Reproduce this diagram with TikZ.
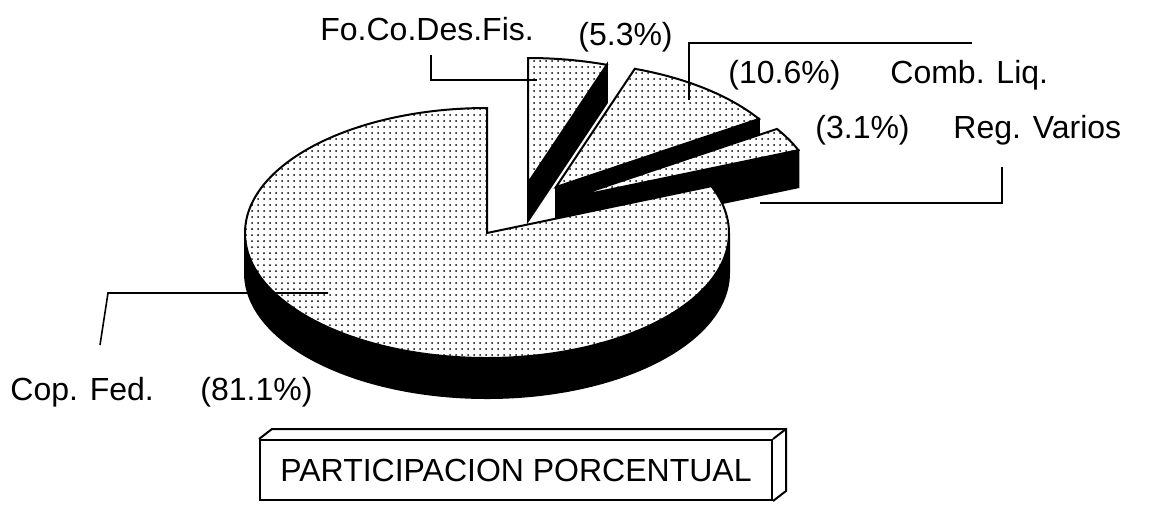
\documentclass[tikz,border=0pt]{standalone}
\usepackage{fontspec}
\setmainfont{Liberation Sans}
\usetikzlibrary{patterns, calc}

\begin{document}
\begin{tikzpicture}[x=0.5pt, y=0.5pt,
  pietop/.style={draw, line width=1pt, pattern=dots, preaction={fill=white}},
  pieside/.style={draw, line width=1pt, fill=black},
  leader/.style={line width=0.8pt},
  lbl/.style={font=\fontsize{16}{19}\selectfont, inner sep=0pt, anchor=base west}]
\useasboundingbox (0,0) rectangle (1151,-505);

% exploded slices, back to front
\coordinate (fc) at (528,-183);
\filldraw[pieside] (fc) -- ($(fc)+(71:242 and 125)$) -- ++(0,-38) -- ($(fc)+(0,-38)$) -- cycle;
\filldraw[pietop] (fc) -- ($(fc)+(90:242 and 125)$) arc[start angle=90, end angle=71, x radius=242, y radius=125] -- cycle;

\coordinate (cl) at (556,-187);
\filldraw[pieside] (cl) -- ($(cl)+(33:242 and 125)$) -- ++(0,-38) -- ($(cl)+(0,-38)$) -- cycle;
\filldraw[pietop] (cl) -- ($(cl)+(71:242 and 125)$) arc[start angle=71, end angle=33, x radius=242, y radius=125] -- cycle;

\coordinate (rv) at (574,-197);
\filldraw[pieside] (rv) -- ($(rv)+(22:242 and 125)$) -- ++(0,-37) -- ($(rv)+(0,-37)$) -- cycle;
\filldraw[pietop] (rv) -- ($(rv)+(33:242 and 125)$) arc[start angle=33, end angle=22, x radius=242, y radius=125] -- cycle;

% main slice
\coordinate (cp) at (487,-233);
\filldraw[pieside] ($(cp)+(180:242 and 125)$) arc[start angle=180, end angle=360, x radius=242, y radius=125] -- ++(0,-40) arc[start angle=360, end angle=180, x radius=242, y radius=125] -- cycle;
\filldraw[pietop] (cp) -- ($(cp)+(90:242 and 125)$) arc[start angle=90, end angle=382, x radius=242, y radius=125] -- cycle;

% labels
\node[lbl] (fcname) at (320,-40) {Fo.Co.Des.Fis.};
\node[lbl] (fcval) at (578,-45) {(5.3\%)};
\node[lbl] (clval) at (728,-83) {(10.6\%)};
\node[lbl] (clname) at (890,-83) {Comb. Liq.};
\node[lbl] (rvval) at (815,-138) {(3.1\%)};
\node[lbl] (rvname) at (953,-138) {Reg. Varios};
\node[lbl] (cpname) at (10,-400) {Cop. Fed.};
\node[lbl] (cpval) at (200,-400) {(81.1\%)};

% leaders
\coordinate (fcA) at (431,-55);
\coordinate (fcB) at (537,-80);
\draw[leader] (fcA) |- (fcB);
\coordinate (clA) at (972,-43);
\coordinate (clB) at (689,-100);
\draw[leader] (clA) -| (clB);
\coordinate (rvA) at (1002,-167);
\coordinate (rvB) at (760,-203);
\draw[leader] (rvA) |- (rvB);
\coordinate (cpA) at (100,-345);
\coordinate (cpB) at (108,-293);
\coordinate (cpC) at (328,-293);
\draw[leader] (cpA) -- (cpB) -- (cpC);

% title box
\node[draw, line width=1pt, minimum width=256pt, minimum height=30pt, inner sep=0pt,
  font=\fontsize{16}{19}\selectfont] (title) at (516,-470) {PARTICIPACION PORCENTUAL};
\draw[line width=1pt] (title.north west) -- ++(13,10) -- ($(title.north east)+(13,10)$)
  -- ($(title.south east)+(13,10)$) -- (title.south east);
\draw[line width=1pt] (title.north east) -- ++(13,10);
\end{tikzpicture}
\end{document}
